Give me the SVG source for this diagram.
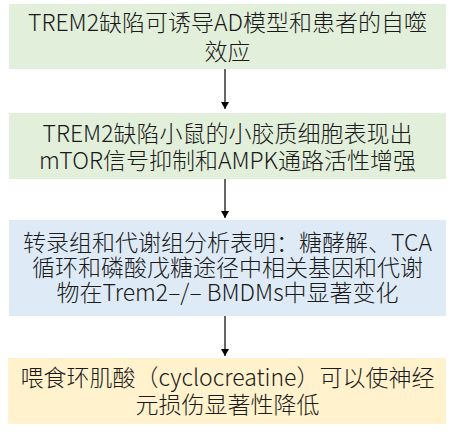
<svg xmlns="http://www.w3.org/2000/svg" width="454" height="434" viewBox="0 0 454 434">
<defs>
<style>
.box{stroke:none}
.g{fill:#E2EFDA}
.b{fill:#DEEBF7}
.y{fill:#FFF2CC}
text{font-family:"Noto Sans CJK SC","Noto Sans",sans-serif;font-size:23px;font-weight:300;fill:#1a1a1a;text-anchor:middle}
.c{stroke:#000;stroke-width:1.2;fill:none}
</style>
<marker id="ah" markerWidth="7" markerHeight="8" refX="7" refY="4" orient="auto" markerUnits="userSpaceOnUse">
<path d="M0,0 L7,4 L0,8 Z" fill="#000"/>
</marker>
</defs>
<g id="connectors">
<line class="c" x1="225" y1="69" x2="225" y2="109" marker-end="url(#ah)"/>
<line class="c" x1="225" y1="179" x2="225" y2="218" marker-end="url(#ah)"/>
<line class="c" x1="225" y1="316" x2="225" y2="356" marker-end="url(#ah)"/>
</g>
<g id="node1">
<rect class="box g" x="9" y="4" width="437" height="65"/>
<text x="227.5" y="31">TREM2缺陷可诱导AD模型和患者的自噬</text>
<text x="227.5" y="60">效应</text>
</g>
<g id="node2">
<rect class="box g" x="9" y="113" width="437" height="66"/>
<text x="227.5" y="142">TREM2缺陷小鼠的小胶质细胞表现出</text>
<text x="227.5" y="169">mTOR信号抑制和AMPK通路活性增强</text>
</g>
<g id="node3">
<rect class="box b" x="9" y="220" width="437" height="96"/>
<text x="227.5" y="251">转录组和代谢组分析表明：糖酵解、TCA</text>
<text x="227.5" y="276">循环和磷酸戊糖途径中相关基因和代谢</text>
<text x="227.5" y="301">物在Trem2–/– BMDMs中显著变化</text>
</g>
<g id="node4">
<rect class="box y" x="8" y="358" width="438" height="66"/>
<text x="227.5" y="386">喂食环肌酸（cyclocreatine）可以使神经</text>
<text x="227.5" y="413">元损伤显著性降低</text>
</g>
</svg>
